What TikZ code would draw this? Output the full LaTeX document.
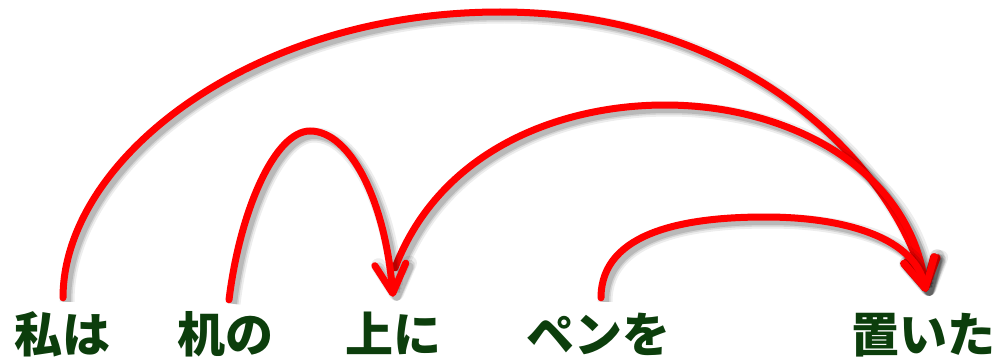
\documentclass[tikz,border=0pt]{standalone}
\usepackage{fontspec}
\newfontfamily\jpfont{Noto Sans CJK JP}
\usetikzlibrary{arrows.meta}
\definecolor{wordgreen}{RGB}{12,62,12}
\tikzset{
  word/.style={font=\jpfont\bfseries\fontsize{48}{48}\selectfont, text=wordgreen,
    inner sep=0pt, text height=40pt, text depth=4pt, anchor=base},
  dep/.style={draw=red, line width=7pt, line cap=round,
    -{Straight Barb[length=29pt,width=31pt,line cap=round,line join=round]},
    preaction={draw=black, opacity=0.07, line width=15pt, transform canvas={shift={(4pt,-4pt)}}},
    preaction={draw=black, opacity=0.10, line width=11pt, transform canvas={shift={(4pt,-4pt)}}},
    preaction={draw=black, opacity=0.13, line width=8pt, transform canvas={shift={(4pt,-4pt)}}}},
}
\begin{document}
\begin{tikzpicture}[x=1pt,y=-1pt]
\useasboundingbox (0,0) rectangle (998,361);
\node[word] (w1) at (62,352) {私は};
\node[word] (w2) at (225,352) {机の};
\node[word] (w3) at (393,352) {上に};
\node[word] (w4) at (598,352) {ペンを};
\node[word] (w5) at (923,352) {置いた};
% 私は -> 置いた
\draw[dep] ([xshift=1pt,yshift=14pt]w1.north) .. controls (63,160) and (250,12) .. (500,12)
  .. controls (760,12) and (900,180) .. ([xshift=3pt,yshift=20pt]w5.north);
% 上に -> 置いた
\draw[dep] ([xshift=2pt,yshift=44pt]w3.north) .. controls (440,150) and (560,105) .. (665,105)
  .. controls (790,105) and (910,170) .. ([xshift=3pt,yshift=20pt]w5.north);
% ペンを -> 置いた
\draw[dep] ([xshift=3pt,yshift=14pt]w4.north) .. controls (601,230) and (690,217) .. (765,217)
  .. controls (850,217) and (915,240) .. ([xshift=3pt,yshift=20pt]w5.north);
% 机の -> 上に
\draw[dep] ([xshift=4pt,yshift=12pt]w2.north) .. controls (240,210) and (275,131) .. (310,131)
  .. controls (350,131) and (385,200) .. ([yshift=15pt]w3.north);
\end{tikzpicture}
\end{document}
